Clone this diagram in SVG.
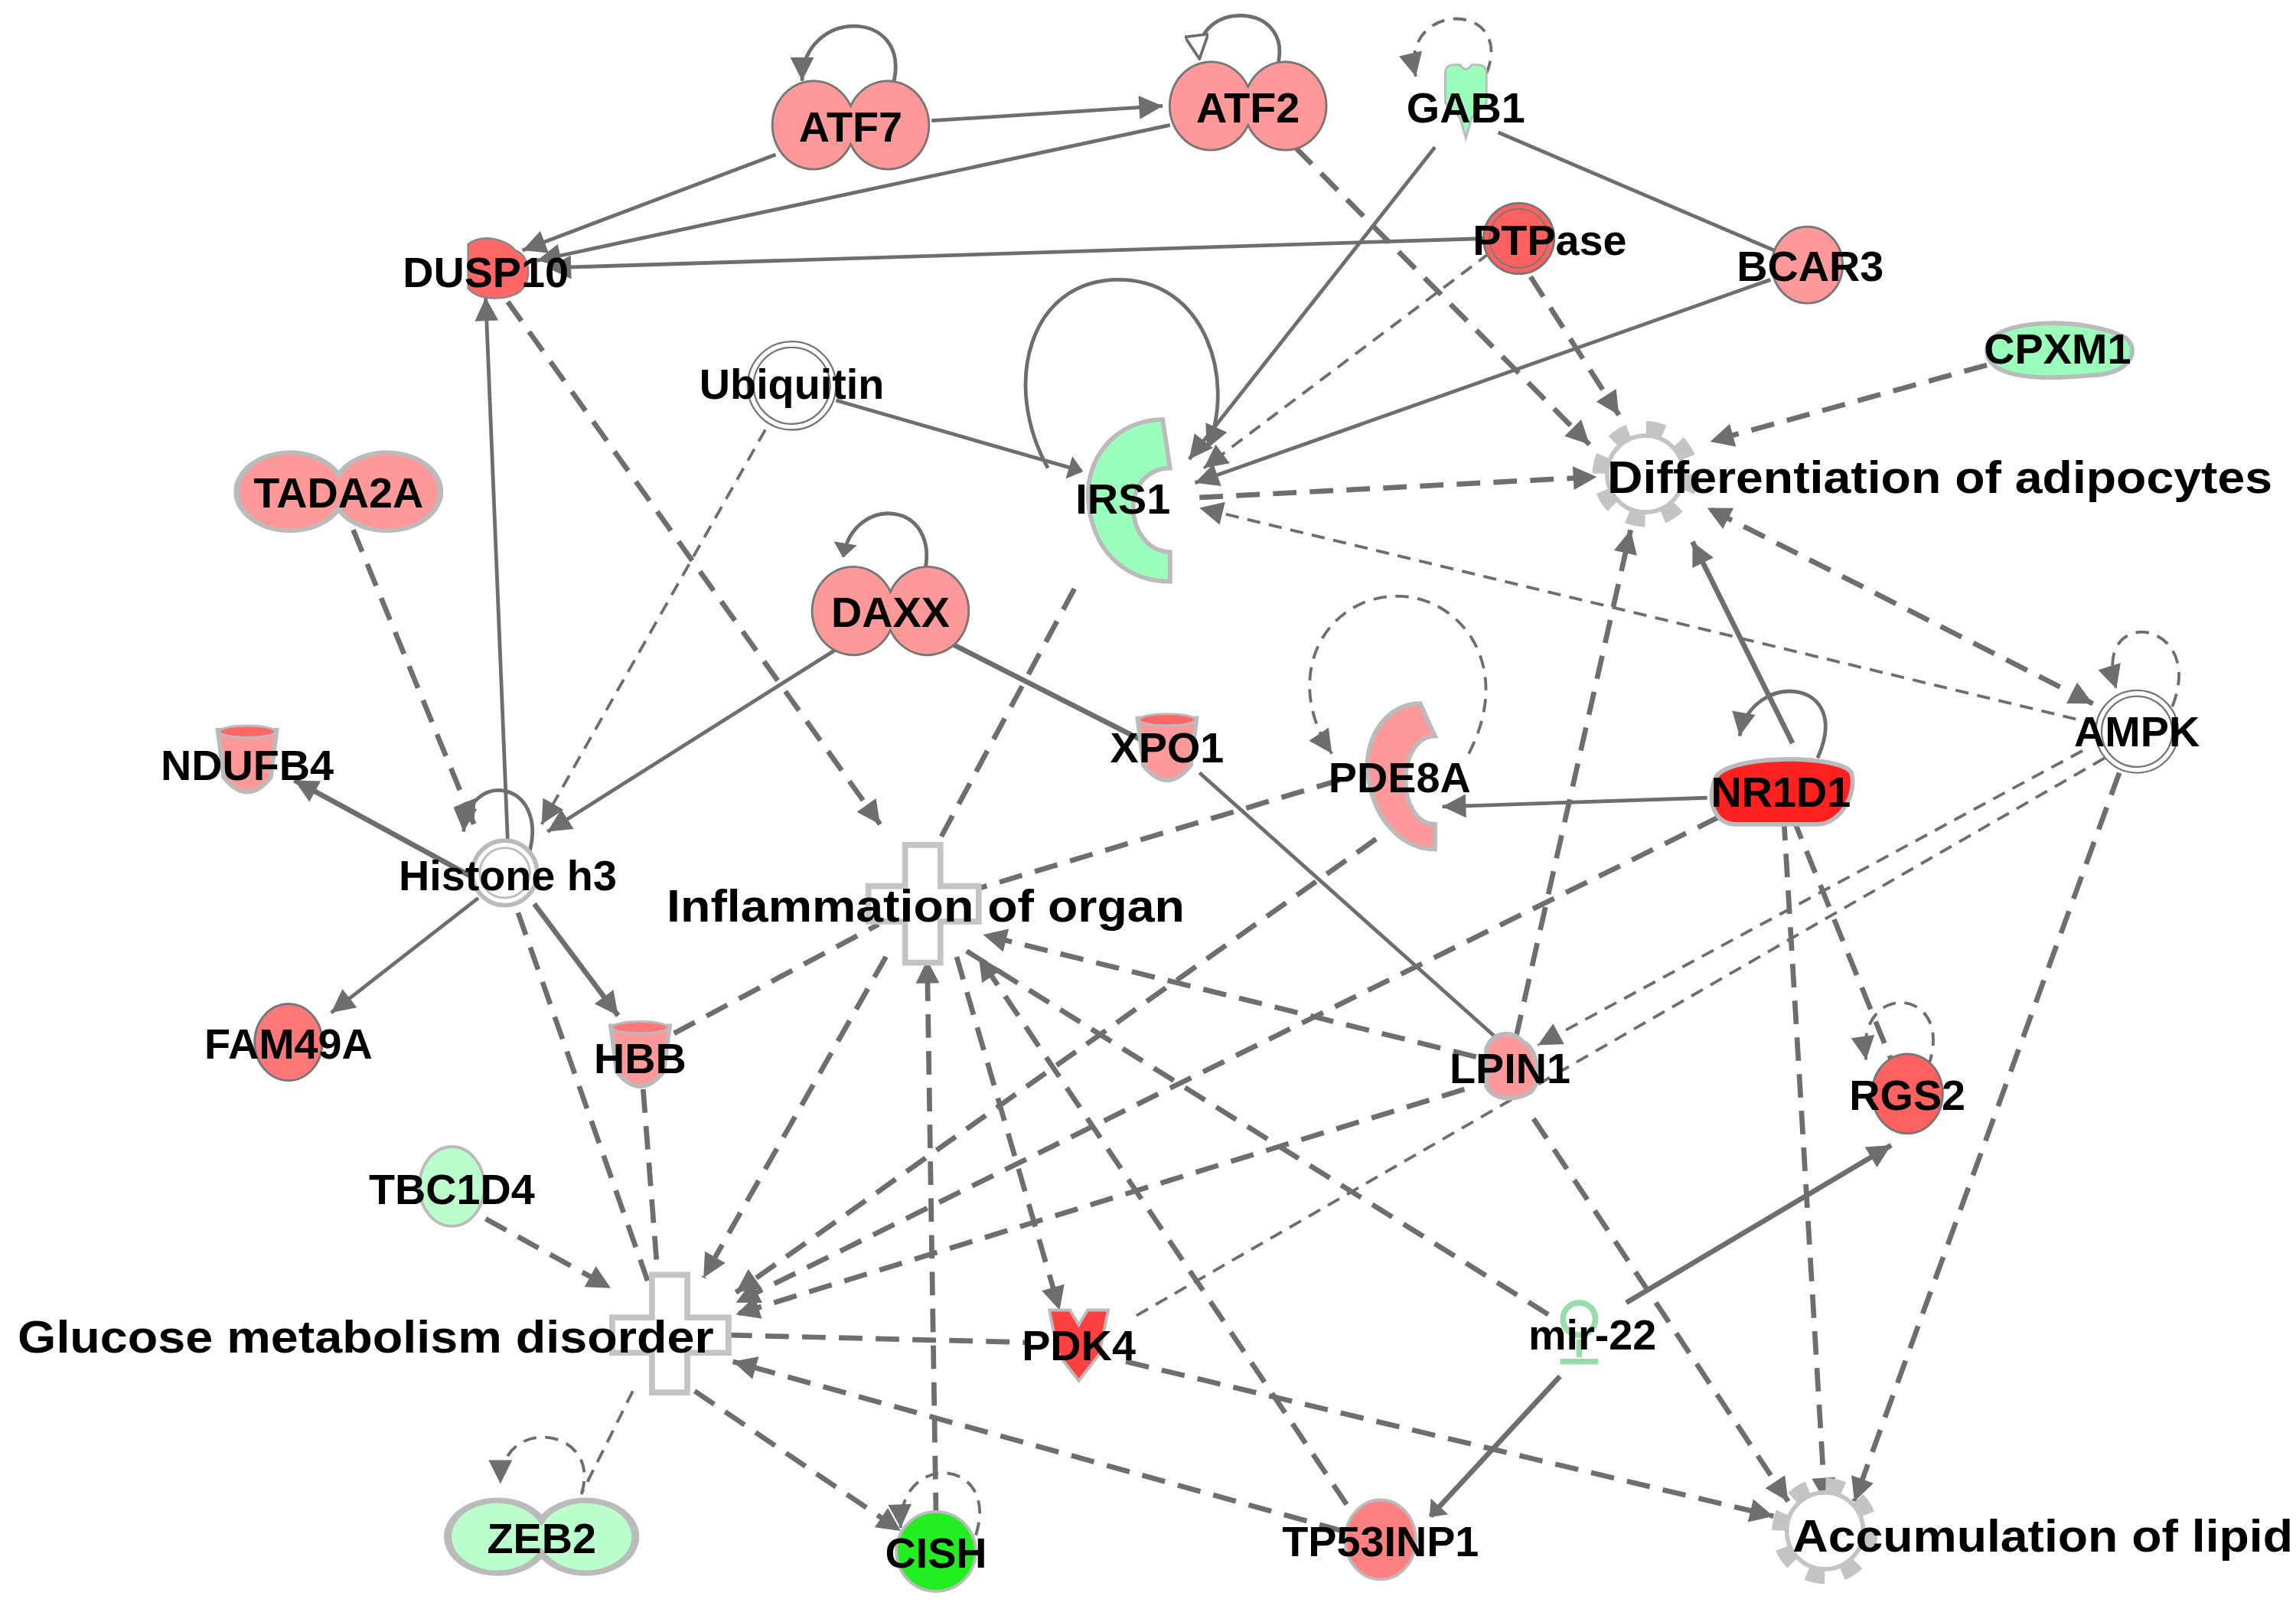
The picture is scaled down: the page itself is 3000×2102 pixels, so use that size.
<svg xmlns="http://www.w3.org/2000/svg" width="3000" height="2102" viewBox="0 0 3000 2102">
<defs>
<marker id="a" viewBox="0 0 10 10" refX="10" refY="5" markerWidth="18" markerHeight="16" markerUnits="userSpaceOnUse" orient="auto"><path d="M0,0 L10,5 L0,10 Z" fill="#6e6e6e"/></marker>
<marker id="as" viewBox="0 0 10 10" refX="0" refY="5" markerWidth="18" markerHeight="16" markerUnits="userSpaceOnUse" orient="auto"><path d="M10,0 L0,5 L10,10 Z" fill="#6e6e6e"/></marker>
<marker id="o" viewBox="0 0 10 10" refX="10" refY="5" markerWidth="18" markerHeight="16" markerUnits="userSpaceOnUse" orient="auto"><path d="M0,0 L10,5 L0,10 Z" fill="#fff" stroke="#6e6e6e" stroke-width="1.2"/></marker>
<marker id="b" viewBox="0 0 10 16" refX="9" refY="8" markerWidth="10" markerHeight="16" markerUnits="userSpaceOnUse" orient="auto"><path d="M0,0 L10,8 L0,16 Z" fill="#6e6e6e"/><path d="M-2,0 L-2,16" stroke="#6e6e6e" stroke-width="1.5"/></marker>
</defs>
<style>
.s{stroke:#6e6e6e;stroke-width:2.5;fill:none}
.h{stroke:#6e6e6e;stroke-width:3.5;fill:none}
.d{stroke:#6e6e6e;stroke-width:3.5;fill:none;stroke-dasharray:16 9}
.t{stroke:#6e6e6e;stroke-width:2;fill:none;stroke-dasharray:9 6}
.n text{font-family:"Liberation Sans",Arial,sans-serif;font-weight:bold;font-size:29px;fill:#000;text-anchor:middle}
.n text.lab{font-size:31px}
.pk{fill:#ff9999;stroke:#777;stroke-width:1.5}
.pg{fill:#ff9999;stroke:#bbb;stroke-width:3}
.gr{fill:#99ffbb;stroke:#bbb;stroke-width:3}
.dc{fill:#fff;stroke:#777;stroke-width:1.2}
.fx{fill:#fff;stroke:#c4c4c4;stroke-width:4}
</style>
<rect width="3000" height="2102" fill="#fff"/>
<g transform="scale(1.923)">
<g id="connectors">
<path class="s" d="M607,57 C620,5 545,5 545,55" marker-end="url(#a)"/>
<path class="s" d="M868,45 C880,0 810,0 815,40" marker-end="url(#o)"/>
<path class="t" d="M1010,50 C1030,0 950,0 962,52" marker-end="url(#a)"/>
<line class="s" x1="633" y1="82" x2="790" y2="72" marker-end="url(#a)"/>
<line class="s" x1="527" y1="105" x2="355" y2="170" marker-end="url(#a)"/>
<line class="s" x1="795" y1="85" x2="365" y2="177" marker-end="url(#a)"/>
<line class="s" x1="1010" y1="162" x2="372" y2="182" marker-end="url(#a)"/>
<line class="s" x1="975" y1="100" x2="808" y2="312" marker-end="url(#a)"/>
<line class="s" x1="1018" y1="90" x2="1210" y2="172"/>
<line class="d" x1="880" y1="100" x2="1080" y2="302" marker-end="url(#a)"/>
<line class="t" x1="1012" y1="172" x2="818" y2="318" marker-end="url(#a)"/>
<line class="d" x1="1040" y1="188" x2="1100" y2="282" marker-end="url(#a)"/>
<line class="s" x1="1203" y1="190" x2="812" y2="328" marker-end="url(#a)"/>
<line class="d" x1="1350" y1="248" x2="1162" y2="300" marker-end="url(#a)"/>
<line class="d" x1="815" y1="338" x2="1085" y2="324" marker-end="url(#a)"/>
<path class="s" d="M712,318 C680,260 700,190 760,190 C820,190 840,260 820,305" marker-end="url(#a)"/>
<line class="s" x1="568" y1="272" x2="735" y2="320" marker-end="url(#b)"/>
<line class="t" x1="520" y1="292" x2="368" y2="560" marker-end="url(#a)"/>
<line class="t" x1="1425" y1="492" x2="815" y2="345" marker-end="url(#a)"/>
<line class="d" x1="1422" y1="478" x2="1160" y2="345" marker-start="url(#as)" marker-end="url(#a)"/>
<path class="t" d="M1476,480 C1500,420 1420,410 1438,468" marker-end="url(#a)"/>
<line class="h" x1="1218" y1="505" x2="1150" y2="368" marker-end="url(#a)"/>
<line class="d" x1="1030" y1="705" x2="1108" y2="360" marker-end="url(#a)"/>
<path class="s" d="M1235,515 C1260,460 1190,455 1182,500" marker-end="url(#a)"/>
<line class="s" x1="1160" y1="542" x2="980" y2="548" marker-end="url(#a)"/>
<path class="t" d="M998,512 C1030,450 990,405 950,405 C900,405 870,460 905,512" marker-end="url(#a)"/>
<line class="d" x1="935" y1="570" x2="500" y2="878" marker-end="url(#a)"/>
<line class="d" x1="910" y1="530" x2="660" y2="605"/>
<line class="s" x1="815" y1="525" x2="1020" y2="708"/>
<line class="h" x1="642" y1="435" x2="780" y2="505"/>
<line class="s" x1="570" y1="440" x2="372" y2="565" marker-end="url(#a)"/>
<path class="s" d="M628,390 C640,340 580,335 573,378" marker-end="url(#b)"/>
<line class="d" x1="345" y1="205" x2="598" y2="560" marker-end="url(#a)"/>
<line class="s" x1="345" y1="572" x2="330" y2="202" marker-end="url(#a)"/>
<line class="d" x1="240" y1="360" x2="322" y2="560" marker-end="url(#a)"/>
<path class="s" d="M360,578 C372,530 318,522 315,565" marker-end="url(#a)"/>
<line class="h" x1="325" y1="598" x2="200" y2="530" marker-end="url(#a)"/>
<line class="s" x1="325" y1="610" x2="225" y2="688" marker-end="url(#a)"/>
<line class="h" x1="363" y1="614" x2="420" y2="690" marker-end="url(#a)"/>
<line class="d" x1="352" y1="620" x2="440" y2="870"/>
<line class="d" x1="437" y1="740" x2="447" y2="868"/>
<line class="d" x1="458" y1="702" x2="597" y2="628"/>
<line class="d" x1="730" y1="400" x2="636" y2="575"/>
<line class="d" x1="602" y1="650" x2="478" y2="868" marker-end="url(#a)"/>
<line class="d" x1="636" y1="1030" x2="630" y2="652" marker-end="url(#a)"/>
<path class="t" d="M663,1043 C680,990 610,985 612,1038" marker-end="url(#a)"/>
<line class="d" x1="472" y1="945" x2="612" y2="1040" marker-end="url(#a)"/>
<line class="t" x1="430" y1="945" x2="395" y2="1015"/>
<path class="t" d="M395,1015 C410,970 340,960 340,1008" marker-end="url(#a)"/>
<line class="d" x1="650" y1="650" x2="720" y2="890" marker-end="url(#a)"/>
<line class="d" x1="915" y1="1022" x2="665" y2="650" marker-end="url(#a)"/>
<line class="d" x1="495" y1="907" x2="700" y2="912"/>
<line class="d" x1="765" y1="925" x2="1205" y2="1030" marker-end="url(#a)"/>
<line class="d" x1="912" y1="1040" x2="498" y2="925" marker-end="url(#a)"/>
<line class="d" x1="1168" y1="555" x2="500" y2="885" marker-end="url(#a)"/>
<line class="d" x1="995" y1="740" x2="500" y2="893" marker-end="url(#a)"/>
<line class="d" x1="1003" y1="718" x2="668" y2="635" marker-end="url(#a)"/>
<line class="d" x1="1052" y1="893" x2="655" y2="645"/>
<line class="h" x1="1105" y1="885" x2="1285" y2="778" marker-end="url(#a)"/>
<line class="h" x1="1060" y1="935" x2="972" y2="1030" marker-end="url(#b)"/>
<line class="t" x1="1415" y1="510" x2="1045" y2="710" marker-end="url(#a)"/>
<line class="t" x1="1430" y1="515" x2="770" y2="895"/>
<line class="d" x1="1440" y1="525" x2="1260" y2="1020" marker-end="url(#a)"/>
<line class="d" x1="1212" y1="555" x2="1240" y2="1020" marker-end="url(#a)"/>
<line class="d" x1="1218" y1="555" x2="1285" y2="720"/>
<path class="t" d="M1310,725 C1330,670 1260,665 1268,720" marker-end="url(#a)"/>
<line class="d" x1="1042" y1="760" x2="1215" y2="1020" marker-end="url(#a)"/>
<line class="d" x1="330" y1="828" x2="415" y2="875" marker-end="url(#a)"/>
</g>
<g id="ATF7" class="n"><path class="pk" d="M578,72 A28,30 0 1 0 578,98 A28,30 0 1 0 578,72 Z"/><text x="578" y="96">ATF7</text></g>
<g id="ATF2" class="n"><path class="pk" d="M848,59 A28,30 0 1 0 848,85 A28,30 0 1 0 848,59 Z"/><text x="848" y="83">ATF2</text></g>
<g id="GAB1" class="n"><path class="gr" style="stroke-width:1.5" d="M982,50 Q982,44 988,44 L992,44 Q996,50 1000,44 L1004,44 Q1010,44 1010,50 L1010,70 L1000,80 L996,94 L992,80 L982,70 Z"/><text x="996" y="83">GAB1</text></g>
<g id="DUSP10" class="n"><path fill="#ff6666" stroke="#888" stroke-width="1.2" d="M318,166 C328,158 345,163 350,170 C362,174 362,195 350,200 C340,204 325,204 318,196 Z"/><text x="330" y="195">DUSP10</text></g>
<g id="PTPase" class="n"><circle cx="1032" cy="162" r="24" fill="#ff6060" stroke="#777" stroke-width="1.5"/><circle cx="1032" cy="162" r="20" fill="none" stroke="#777" stroke-width="1"/><text x="1053" y="173">PTPase</text></g>
<g id="BCAR3" class="n"><ellipse cx="1228" cy="180" rx="24" ry="26" class="pk"/><text x="1230" y="191">BCAR3</text></g>
<g id="CPXM1" class="n"><path class="gr" d="M1350,238 C1350,215 1420,215 1445,230 C1455,240 1445,255 1420,255 C1390,258 1350,258 1350,238 Z"/><text x="1398" y="247">CPXM1</text></g>
<g id="Ubiquitin" class="n"><circle cx="538" cy="262" r="30" class="dc"/><circle cx="538" cy="262" r="26" class="dc"/><text x="538" y="271">Ubiquitin</text></g>
<g id="IRS1" class="n"><path class="gr" d="M790,285 C760,285 735,310 740,345 C745,380 770,395 795,395 L795,375 C780,375 770,360 770,345 C770,330 780,318 795,318 Z"/><text x="763" y="349">IRS1</text></g>
<g id="Differentiation" class="n"><circle cx="1118" cy="322" r="30" fill="none" stroke="#c4c4c4" stroke-width="12" stroke-dasharray="11.8 11.8"/><circle cx="1118" cy="322" r="26" fill="#fff" stroke="#c4c4c4" stroke-width="3"/><text class="lab" x="1092" y="335" style="text-anchor:start" textLength="452" lengthAdjust="spacingAndGlyphs">Differentiation of adipocytes</text></g>
<g id="TADA2A" class="n"><path class="pg" d="M230,322 A28,28 0 1 0 230,346 A28,28 0 1 0 230,322 Z" transform="translate(230,334) scale(1.3,0.95) translate(-230,-334)"/><text x="230" y="345">TADA2A</text></g>
<g id="DAXX" class="n"><path class="pk" d="M605,402 A28,30 0 1 0 605,428 A28,30 0 1 0 605,402 Z"/><text x="605" y="426">DAXX</text></g>
<g id="NDUFB4" class="n"><path class="pg" d="M148,496 L188,496 L184,528 Q168,548 152,528 Z"/><ellipse cx="168" cy="497" rx="19" ry="4" fill="#ff6666" stroke="#bbb" stroke-width="1.5"/><text x="168" y="530">NDUFB4</text></g>
<g id="XPO1" class="n"><path class="pg" d="M773,488 L813,488 L809,520 Q793,540 777,520 Z"/><ellipse cx="793" cy="489" rx="19" ry="4" fill="#ff6666" stroke="#bbb" stroke-width="1.5"/><text x="793" y="518">XPO1</text></g>
<g id="PDE8A" class="n"><path class="pg" d="M965,478 C940,478 925,505 930,530 C935,560 955,577 975,577 L975,560 C962,560 955,545 955,530 C955,515 962,500 975,500 Z"/><text x="951" y="538">PDE8A</text></g>
<g id="NR1D1" class="n"><path fill="#ff2020" stroke="#bbb" stroke-width="3" d="M1165,530 C1170,512 1250,512 1258,525 C1262,540 1250,560 1235,560 L1180,560 C1165,560 1160,545 1165,530 Z"/><text x="1210" y="548">NR1D1</text></g>
<g id="AMPK" class="n"><circle cx="1452" cy="497" r="28" class="dc"/><circle cx="1452" cy="497" r="24" class="dc"/><text x="1452" y="507">AMPK</text></g>
<g id="Histone_h3" class="n"><circle cx="343" cy="593" r="22" fill="#fff" stroke="#bbb" stroke-width="3"/><circle cx="343" cy="593" r="17" fill="none" stroke="#bbb" stroke-width="1.5"/><text x="345" y="605">Histone h3</text></g>
<g id="Inflammation" class="n"><path class="fx" d="M615,574 L639,574 L639,602 L665,602 L665,626 L639,626 L639,654 L615,654 L615,626 L590,626 L590,602 L615,602 Z"/><text class="lab" x="453" y="626" style="text-anchor:start" textLength="352" lengthAdjust="spacingAndGlyphs">Inflammation of organ</text></g>
<g id="FAM49A" class="n"><ellipse cx="196" cy="708" rx="23" ry="26" fill="#ff7777" stroke="#777" stroke-width="1.5"/><text x="196" y="719">FAM49A</text></g>
<g id="HBB" class="n"><path class="pg" d="M415,697 L455,697 L451,728 Q435,748 419,728 Z"/><ellipse cx="435" cy="698" rx="19" ry="4" fill="#ff7777" stroke="#bbb" stroke-width="1.5"/><text x="435" y="729">HBB</text></g>
<g id="LPIN1" class="n"><path class="pg" d="M1010,712 C1015,700 1028,700 1035,708 C1045,712 1048,735 1040,742 C1030,748 1015,748 1010,738 Z"/><text x="1026" y="736">LPIN1</text></g>
<g id="RGS2" class="n"><ellipse cx="1296" cy="743" rx="24" ry="27" fill="#ff6060" stroke="#777" stroke-width="1.5"/><text x="1296" y="754">RGS2</text></g>
<g id="TBC1D4" class="n"><ellipse cx="307" cy="806" rx="22" ry="27" fill="#bbffcc" stroke="#bbb" stroke-width="2"/><text x="307" y="818">TBC1D4</text></g>
<g id="Glucose" class="n"><path class="fx" d="M443,866 L467,866 L467,895 L495,895 L495,919 L467,919 L467,946 L443,946 L443,919 L416,919 L416,895 L443,895 Z"/><text class="lab" x="12" y="919" style="text-anchor:start" textLength="473" lengthAdjust="spacingAndGlyphs">Glucose metabolism disorder</text></g>
<g id="PDK4" class="n"><path fill="#ff4040" stroke="#bbb" stroke-width="2" d="M713,890 L727,890 L733,900 L739,890 L753,890 L747,920 L733,938 L719,920 Z"/><text x="733" y="924">PDK4</text></g>
<g id="mir-22" class="n"><path fill="none" stroke="#99ddaa" stroke-width="4" d="M1073,910 L1073,922 M1060,925 L1086,925"/><circle cx="1073" cy="896" r="11" fill="#fff" stroke="#99ddaa" stroke-width="4"/><text x="1082" y="917">mir-22</text></g>
<g id="ZEB2" class="n"><path fill="#bbffcc" stroke="#bbb" stroke-width="4" d="M368,1032 A26,26 0 1 0 368,1056 A26,26 0 1 0 368,1032 Z" transform="translate(368,1044) scale(1.3,0.95) translate(-368,-1044)"/><text x="368" y="1055">ZEB2</text></g>
<g id="CISH" class="n"><circle cx="636" cy="1054" r="27" fill="#22ee22" stroke="#bbb" stroke-width="2"/><text x="636" y="1065">CISH</text></g>
<g id="TP53INP1" class="n"><ellipse cx="938" cy="1046" rx="24" ry="27" fill="#ff8080" stroke="#bbb" stroke-width="2"/><text x="938" y="1057">TP53INP1</text></g>
<g id="Accumulation" class="n"><circle cx="1240" cy="1040" r="30" fill="none" stroke="#c4c4c4" stroke-width="12" stroke-dasharray="11.8 11.8"/><circle cx="1240" cy="1040" r="26" fill="#fff" stroke="#c4c4c4" stroke-width="3"/><text class="lab" x="1218" y="1054" style="text-anchor:start" textLength="340" lengthAdjust="spacingAndGlyphs">Accumulation of lipid</text></g>
</g>
</svg>
